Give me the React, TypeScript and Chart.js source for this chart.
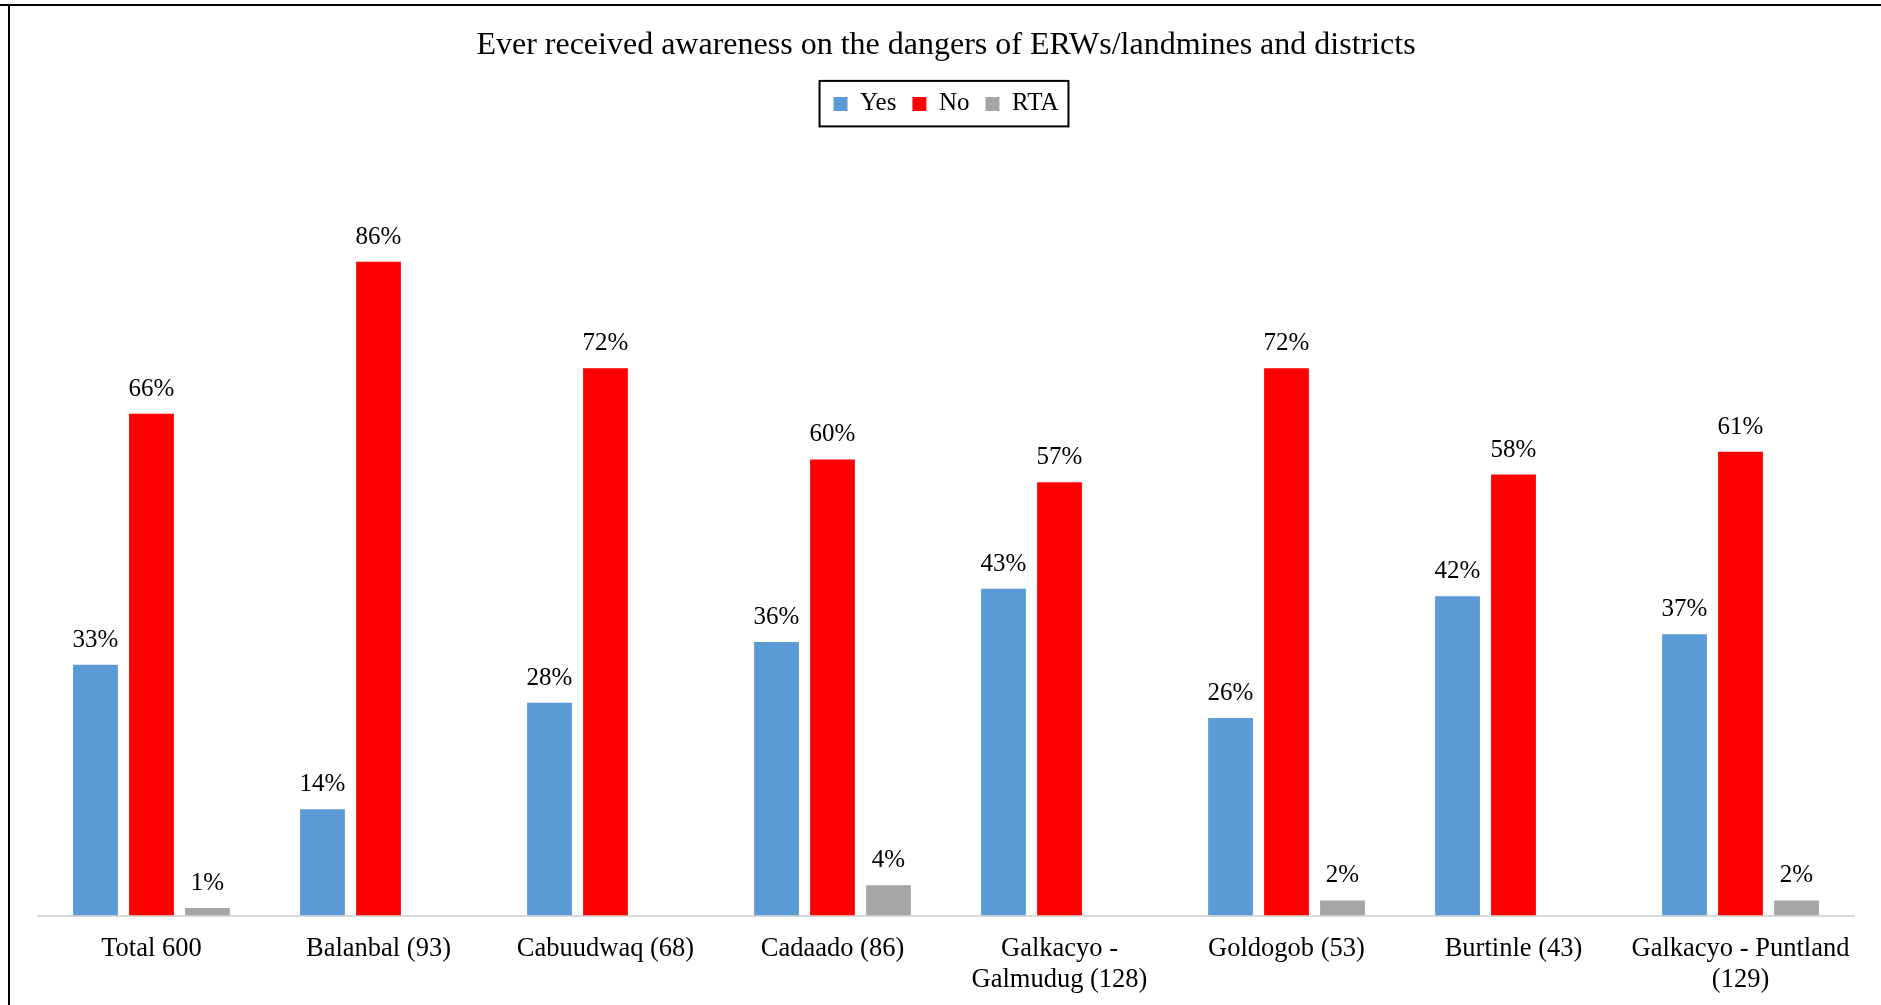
import React, { useEffect, useRef } from "react";
import { Chart, registerables } from "chart.js";

Chart.register(...registerables);

const chartTitle = "Ever received awareness on the dangers of ERWs/landmines and districts";
const categories: (string | string[])[] = [
  "Total 600",
  "Balanbal (93)",
  "Cabuudwaq (68)",
  "Cadaado (86)",
  ["Galkacyo -", "Galmudug (128)"],
  "Goldogob (53)",
  "Burtinle (43)",
  ["Galkacyo - Puntland", "(129)"],
];
const seriesNames = ["Yes", "No", "RTA"];
const yesValues = [33, 14, 28, 36, 43, 26, 42, 37];
const noValues = [66, 86, 72, 60, 57, 72, 58, 61];
const rtaValues = [1, 0, 0, 4, 0, 2, 0, 2];
const seriesColors = ["#5B9BD5", "#FF0000", "#A5A5A5"];

const FONT = "'Liberation Serif', 'Times New Roman', serif";

const dataLabelPlugin = {
  id: "dataLabels",
  afterDatasetsDraw(chart: any) {
    const ctx = chart.ctx;
    ctx.save();
    ctx.font = `25px ${FONT}`;
    ctx.fillStyle = "#000";
    ctx.textAlign = "center";
    ctx.textBaseline = "alphabetic";
    chart.data.datasets.forEach((ds: any, i: number) => {
      const meta = chart.getDatasetMeta(i);
      meta.data.forEach((el: any, j: number) => {
        const v = ds.data[j];
        if (!v) return;
        ctx.fillText(`${Math.round(v)}%`, el.x, el.y - 18);
      });
    });
    ctx.restore();
  },
};

const legendBorderPlugin = {
  id: "legendBorder",
  afterDraw(chart: any) {
    const lg = chart.legend;
    if (!lg || !lg.legendHitBoxes || !lg.legendHitBoxes.length) return;
    const hb = lg.legendHitBoxes;
    const first = hb[0];
    const last = hb[hb.length - 1];
    const left = first.left - 14;
    const right = last.left + last.width + 10;
    const top = first.top - 10.5;
    const bottom = first.top + first.height + 10;
    const ctx = chart.ctx;
    ctx.save();
    ctx.strokeStyle = "#000";
    ctx.lineWidth = 2;
    ctx.strokeRect(left, top, right - left, bottom - top);
    ctx.restore();
  },
};

export default function App() {
  const canvasRef = useRef<HTMLCanvasElement | null>(null);

  useEffect(() => {
    if (!canvasRef.current) return;
    const chart = new Chart(canvasRef.current, {
      type: "bar",
      data: {
        labels: categories,
        datasets: [
          { label: seriesNames[0], data: yesValues, backgroundColor: seriesColors[0] },
          { label: seriesNames[1], data: noValues, backgroundColor: seriesColors[1] },
          { label: seriesNames[2], data: rtaValues, backgroundColor: seriesColors[2] },
        ],
      },
      options: {
        responsive: false,
        maintainAspectRatio: false,
        animation: false,
        devicePixelRatio: 1,
        color: "#000",
        datasets: {
          bar: { categoryPercentage: 0.74, barPercentage: 0.8 },
        },
        layout: { padding: { left: 38, right: 27, top: 0, bottom: 2.4 } },
        plugins: {
          title: {
            display: true,
            text: chartTitle,
            color: "#000",
            font: { family: FONT, size: 32, weight: "normal", lineHeight: 1.2 },
            padding: { top: 26, bottom: 11 },
          },
          legend: {
            display: true,
            position: "top",
            labels: {
              color: "#000",
              font: { family: FONT, size: 25 },
              boxWidth: 14,
              boxHeight: 14,
              padding: 16,
            },
          },
          tooltip: { enabled: false },
        },
        scales: {
          x: {
            grid: { display: false, drawTicks: false },
            border: { display: true, color: "#D9D9D9", width: 2 },
            ticks: {
              color: "#000",
              font: { family: FONT, size: 26.5, lineHeight: 1.17 },
              padding: 18,
              maxRotation: 0,
              autoSkip: false,
            },
          },
          y: {
            display: false,
            min: 0,
            max: 103.8,
            grid: { display: false },
          },
        },
      },
      plugins: [dataLabelPlugin, legendBorderPlugin],
    } as any);
    return () => chart.destroy();
  }, []);

  return (
    <div style={{ position: "fixed", left: 0, top: 0, width: 1881, height: 1005, background: "#fff", overflow: "hidden" }}>
      <canvas ref={canvasRef} width={1881} height={1016} style={{ position: "absolute", left: 0, top: 0, width: 1881, height: 1016 }} />
      <div style={{ position: "absolute", left: 0, top: 4, width: 1881, height: 2, background: "#000" }} />
      <div style={{ position: "absolute", left: 8, top: 4, width: 2, height: 1001, background: "#000" }} />
    </div>
  );
}
